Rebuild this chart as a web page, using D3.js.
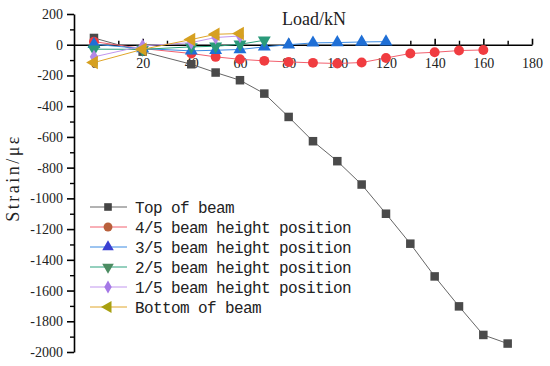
<!DOCTYPE html>
<html>
<head>
<meta charset="utf-8">
<script src="https://cdn.jsdelivr.net/npm/d3@7"></script>
<style>
body { margin: 0; background: #fff; }
</style>
</head>
<body>
<div id="container"></div>
<script>
var seriesNames = ["Top of beam", "4/5 beam height position", "3/5 beam height position",
                   "2/5 beam height position", "1/5 beam height position", "Bottom of beam"];

var topLoad = [0, 20, 40, 50, 60, 70, 80, 90, 100, 110, 120, 130, 140, 150, 160, 170];
var topStrain = [44, -45, -127, -181, -231, -318, -470, -628, -758, -910, -1100, -1295, -1508, -1703, -1889, -1945];

var p45Load = [0, 20, 40, 50, 60, 70, 80, 90, 100, 110, 120, 130, 140, 150, 160];
var p45Strain = [20, -25, -57, -79, -95, -105, -112, -118, -122, -116, -86, -57, -49, -38, -34];

var p35Load = [0, 20, 40, 50, 60, 70, 80, 90, 100, 110, 120];
var p35Strain = [3, -25, -40, -36, -31, -14, 0, 12, 14, 18, 20];

var p25Load = [0, 20, 40, 50, 60, 70];
var p25Strain = [-29, -30, -14, -10, 3, 29];

var p15Load = [0, 20, 40, 50, 60];
var p15Strain = [-79, -8, 14, 47, 57];

var botLoad = [0, 20, 40, 50, 60];
var botStrain = [-116, -30, 34, 68, 73];

var xTicks = [20, 40, 60, 80, 100, 120, 140, 160, 180];
var yTicks = [200, 0, -200, -400, -600, -800, -1000, -1200, -1400, -1600, -1800, -2000];

var width = 550;
var height = 366;

var svg = d3.select("#container").append("svg")
    .attr("width", width)
    .attr("height", height);

var x = d3.scaleLinear().domain([-8.2, 180]).range([74, 532]);
var y = d3.scaleLinear().domain([-2000, 200]).range([352, 14]);

// style per series: line colour, marker colour, legend marker colour, symbol, rotation, size
var styles = [
  {line: "#666666", fill: "#4a4a4a", leg: "#454545", sym: d3.symbolSquare, rot: 0, size: 58},
  {line: "#f2606e", fill: "#f03c40", leg: "#b9603c", sym: d3.symbolCircle, rot: 0, size: 62},
  {line: "#3a8ae2", fill: "#1f6fd6", leg: "#3a40d2", sym: d3.symbolTriangle, rot: 0, size: 58},
  {line: "#2aa17c", fill: "#2a9a7a", leg: "#4c8c62", sym: d3.symbolTriangle, rot: 180, size: 58},
  {line: "#c196ee", fill: "#b288e6", leg: "#a478e6", sym: d3.symbolDiamond, rot: 0, size: 48},
  {line: "#e0a62a", fill: "#d6a020", leg: "#a8a010", sym: d3.symbolTriangle, rot: -90, size: 64}
];

var allSeries = [
  {load: topLoad, strain: topStrain},
  {load: p45Load, strain: p45Strain},
  {load: p35Load, strain: p35Strain},
  {load: p25Load, strain: p25Strain},
  {load: p15Load, strain: p15Strain},
  {load: botLoad, strain: botStrain}
];

// y axis with minor ticks
var yMinor = d3.range(-1900, 200, 200);
svg.append("g")
   .attr("transform", "translate(74,0)")
   .call(d3.axisLeft(y).tickValues(yMinor).tickSize(4).tickFormat(""))
   .call(g => g.select(".domain").remove())
   .call(g => g.selectAll("line").attr("stroke-width", 1.4));

svg.append("g")
   .attr("transform", "translate(74,0)")
   .call(d3.axisLeft(y).tickValues(yTicks).tickSizeInner(7).tickSizeOuter(0).tickPadding(4)
        .tickFormat(d => String(d)))
   .call(g => g.selectAll("text").attr("font-family", "Liberation Serif").attr("font-size", 14).attr("fill", "#222"))
   .call(g => g.selectAll("line,path").attr("stroke", "#000").attr("stroke-width", 1.6));

// x axis at strain = 0, ticks pointing up
var xMinor = d3.range(10, 180, 20);
svg.append("g")
   .attr("transform", "translate(0," + y(0) + ")")
   .call(d3.axisBottom(x).tickValues(xMinor).tickSize(-4).tickFormat(""))
   .call(g => g.select(".domain").remove())
   .call(g => g.selectAll("line").attr("stroke-width", 1.4));

svg.append("g")
   .attr("transform", "translate(0," + y(0) + ")")
   .call(d3.axisBottom(x).tickValues([0].concat(xTicks)).tickSizeInner(-6).tickSizeOuter(0).tickPadding(13))
   .call(g => g.selectAll("text").attr("font-family", "Liberation Serif").attr("font-size", 14).attr("fill", "#222"))
   .call(g => g.selectAll("line,path").attr("stroke", "#000").attr("stroke-width", 1.6));

svg.append("text")
   .attr("x", 282)
   .attr("y", 25)
   .attr("font-family", "Liberation Serif")
   .attr("font-size", 18)
   .attr("fill", "#222")
   .text("Load/kN");

svg.append("text")
   .attr("transform", "translate(19,178) rotate(-90)")
   .attr("text-anchor", "middle")
   .attr("font-family", "Liberation Serif")
   .attr("font-size", 18)
   .attr("letter-spacing", 2.5)
   .attr("fill", "#222")
   .text("Strain/με");

var line = d3.line()
    .x(d => x(d[0]))
    .y(d => y(d[1]));

allSeries.forEach(function(s, i) {
  var st = styles[i];
  var pts = s.load.map((l, j) => [l, s.strain[j]]);
  svg.append("path")
     .datum(pts)
     .attr("fill", "none")
     .attr("stroke", st.line)
     .attr("stroke-width", 1)
     .attr("d", line);
  svg.selectAll(".m" + i)
     .data(pts)
     .enter().append("path")
     .attr("class", "m" + i)
     .attr("transform", d => "translate(" + x(d[0]) + "," + y(d[1]) + ") rotate(" + st.rot + ")")
     .attr("fill", st.fill)
     .attr("d", d3.symbol().type(st.sym).size(st.size * 1.25));
});

// legend
var legend = svg.append("g");
seriesNames.forEach(function(name, i) {
  var st = styles[i];
  var ly = 207 + i * 20;
  legend.append("line")
     .attr("x1", 90).attr("x2", 127)
     .attr("y1", ly).attr("y2", ly)
     .attr("stroke", st.line)
     .attr("stroke-width", 1);
  legend.append("path")
     .attr("transform", "translate(108," + ly + ") rotate(" + st.rot + ")")
     .attr("fill", st.leg)
     .attr("d", d3.symbol().type(st.sym).size(st.size));
  legend.append("text")
     .attr("x", 135)
     .attr("y", ly + 6)
     .attr("font-family", "Liberation Mono")
     .attr("font-size", 16)
     .attr("letter-spacing", -0.6)
     .attr("fill", "#222")
     .text(name);
});
</script>
</body>
</html>
